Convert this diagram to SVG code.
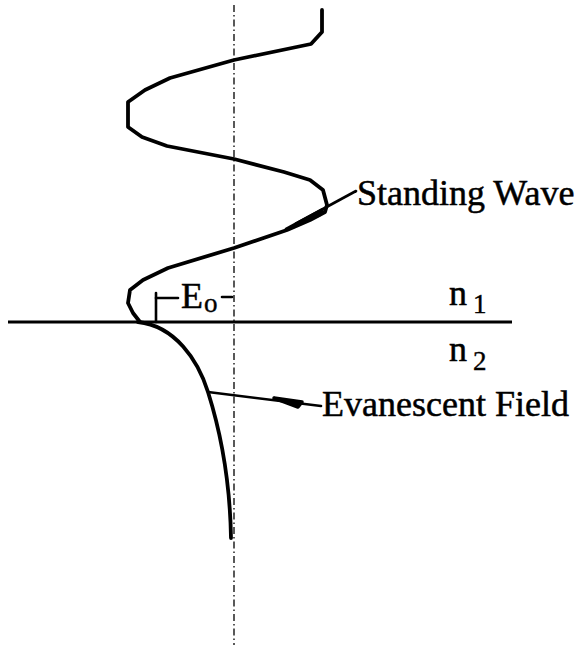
<svg xmlns="http://www.w3.org/2000/svg" width="587" height="645" viewBox="0 0 587 645">
<style>
.curve{fill:none;stroke:#000;stroke-width:3.8;stroke-linejoin:round;stroke-linecap:round}
.thin{fill:none;stroke:#000;stroke-width:2.6;stroke-linecap:round}
.axis{fill:none;stroke:#000;stroke-width:1.3;stroke-dasharray:7 3 1.5 3}
.lbl{font-family:"Liberation Serif","Times New Roman",serif;font-size:36px;fill:#000;stroke:#000;stroke-width:0.5}
.sub{font-family:"Liberation Serif","Times New Roman",serif;font-size:27px;fill:#000;stroke:#000;stroke-width:0.4}
</style>
<g id="axis"><line class="axis" x1="234" y1="5" x2="234" y2="645"/></g>
<g id="interface"><line x1="8" y1="322" x2="512" y2="322" stroke="#000" stroke-width="3"/></g>
<g id="standing-wave">
<polyline class="curve" points="322,10 322,32 311,44 234,60 170,78 145,90 128,102 128,127 142,137 167,146 234,159 284,172 310,180 323,190 327,205 325,212 310,220 287,230 234,248 168,268 143,280 130,290 128,303 133,313 140,322"/>
</g>
<g id="evanescent-field">
<path class="curve" d="M138,322 C175,326 198,360 208,392 C220,430 230,480 231,538"/>
</g>
<g id="connectors">
<line class="thin" x1="286" y1="229" x2="356" y2="191"/>
<path d="M296,224 L322,210 L319,215 Z" stroke="#000" stroke-width="3.5" stroke-linejoin="round"/>
<line class="thin" x1="208" y1="392" x2="321" y2="406"/>
<path d="M274,398 L302,402 L298,407 Z" stroke="#000" stroke-width="3.5" stroke-linejoin="round"/>
</g>
<g id="e0-marker">
<line class="thin" x1="156" y1="293" x2="156" y2="322"/>
<line class="thin" x1="156" y1="298" x2="178" y2="298"/>
<line class="thin" x1="222" y1="297" x2="232" y2="297"/>
<text class="lbl" x="181" y="308">E</text><text class="sub" x="204" y="312">o</text>
</g>
<g id="label-standing"><text class="lbl" x="357" y="205">Standing Wave</text></g>
<g id="label-evanescent"><text class="lbl" x="322" y="416">Evanescent Field</text></g>
<g id="label-n1"><text class="lbl" x="449" y="305">n</text><text class="sub" x="473" y="313">1</text></g>
<g id="label-n2"><text class="lbl" x="449" y="361">n</text><text class="sub" x="473" y="370">2</text></g>
</svg>
